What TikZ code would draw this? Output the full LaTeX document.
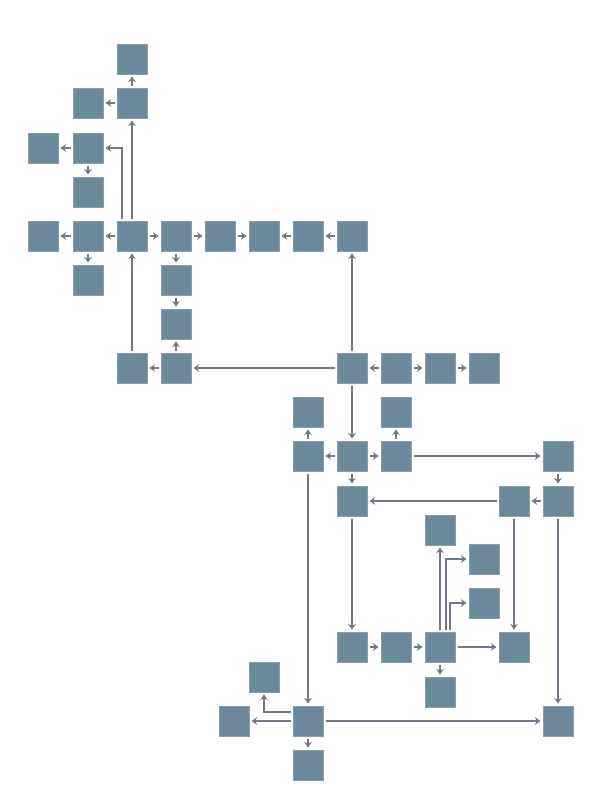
\documentclass[tikz,border=0pt]{standalone}
\usetikzlibrary{arrows.meta}

\definecolor{boxfill}{HTML}{6A899B}
\definecolor{boxedge}{HTML}{8E9CA6}
\definecolor{linkgray}{HTML}{707789}

\begin{document}
\begin{tikzpicture}[x=1pt, y=-1pt,% pixel grid, y pointing down
    blk/.style={draw=boxedge, fill=boxfill, line width=0.8pt, minimum size=30pt, inner sep=0pt, outer sep=2.5pt},
    link/.style={draw=linkgray, line width=1.3pt, -{Stealth[length=5.5pt, width=7.5pt]}}]
    \useasboundingbox (0,0) rectangle (592,787);

    % Top left cluster
    \node[blk] (a1) at (132,59) {};
    \node[blk] (a2) at (88,103) {};
    \node[blk] (a3) at (132,103) {};
    \node[blk] (a4) at (43,148) {};
    \node[blk] (a5) at (88,148) {};
    \node[blk] (a6) at (88,192) {};

    % Long row
    \node[blk] (b1) at (43,236) {};
    \node[blk] (b2) at (88,236) {};
    \node[blk] (b3) at (132,236) {};
    \node[blk] (b4) at (176,236) {};
    \node[blk] (b5) at (220,236) {};
    \node[blk] (b6) at (264,236) {};
    \node[blk] (b7) at (308,236) {};
    \node[blk] (b8) at (352,236) {};
    \node[blk] (c1) at (88,280) {};
    \node[blk] (c2) at (176,280) {};
    \node[blk] (d1) at (176,324) {};

    % Middle row
    \node[blk] (e1) at (132,368) {};
    \node[blk] (e2) at (176,368) {};
    \node[blk] (e3) at (352,368) {};
    \node[blk] (e4) at (396,368) {};
    \node[blk] (e5) at (440,368) {};
    \node[blk] (e6) at (484,368) {};

    % Lower cluster
    \node[blk] (f1) at (308,412) {};
    \node[blk] (f2) at (396,412) {};
    \node[blk] (g1) at (308,456) {};
    \node[blk] (g2) at (352,456) {};
    \node[blk] (g3) at (396,456) {};
    \node[blk] (g4) at (558,456) {};
    \node[blk] (h1) at (352,501) {};
    \node[blk] (h2) at (514,501) {};
    \node[blk] (h3) at (558,501) {};
    \node[blk] (i1) at (440,530) {};
    \node[blk] (j1) at (484,559) {};
    \node[blk] (k1) at (484,603) {};
    \node[blk] (l1) at (352,647) {};
    \node[blk] (l2) at (396,647) {};
    \node[blk] (l3) at (440,647) {};
    \node[blk] (l4) at (514,647) {};
    \node[blk] (n1) at (440,692) {};

    % Bottom cluster
    \node[blk] (m1) at (264,677) {};
    \node[blk] (o1) at (234,721) {};
    \node[blk] (o2) at (308,721) {};
    \node[blk] (o3) at (558,721) {};
    \node[blk] (p1) at (308,765) {};

    % Links, top left
    \draw[link] (a3) -- (a1);
    \draw[link] (a3) -- (a2);
    \draw[link] (a5) -- (a4);
    \draw[link] (a5) -- (a6);
    \draw[link] (b3) -- (a3);
    \draw[link] ([xshift=-10pt]b3.north) |- (a5);
    \draw[link] (b3) -- (b2);
    \draw[link] (b2) -- (b1);
    \draw[link] (b2) -- (c1);
    \draw[link] (b3) -- (b4);
    \draw[link] (b4) -- (b5);
    \draw[link] (b5) -- (b6);
    \draw[link] (b7) -- (b6);
    \draw[link] (b8) -- (b7);
    \draw[link] (b4) -- (c2);
    \draw[link] (c2) -- (d1);
    \draw[link] (e2) -- (d1);
    \draw[link] (e2) -- (e1);
    \draw[link] (e1) -- (b3);

    % Links, middle
    \draw[link] (e3) -- (e2);
    \draw[link] (e3) -- (b8);
    \draw[link] (e4) -- (e3);
    \draw[link] (e4) -- (e5);
    \draw[link] (e5) -- (e6);
    \draw[link] (e3) -- (g2);

    % Links, lower
    \draw[link] (g2) -- (g1);
    \draw[link] (g2) -- (g3);
    \draw[link] (g2) -- (h1);
    \draw[link] (g1) -- (f1);
    \draw[link] (g3) -- (f2);
    \draw[link] (g3) -- (g4);
    \draw[link] (g4) -- (h3);
    \draw[link] (h3) -- (h2);
    \draw[link] (h2) -- (h1);
    \draw[link] (h1) -- (l1);
    \draw[link] (h2) -- (l4);
    \draw[link] (l1) -- (l2);
    \draw[link] (l2) -- (l3);
    \draw[link] (l3) -- (l4);
    \draw[link] (l3) -- (n1);
    \draw[link] (l3) -- (i1);
    \draw[link] ([xshift=6pt]l3.north) |- (j1);
    \draw[link] ([xshift=10pt]l3.north) |- (k1);

    % Links, bottom
    \draw[link] (g1) -- (o2);
    \draw[link] (h3) -- (o3);
    \draw[link] (o2) -- (o1);
    \draw[link] ([yshift=9pt]o2.west) -| (m1);
    \draw[link] (o2) -- (p1);
    \draw[link] (o2) -- (o3);

\end{tikzpicture}
\end{document}
